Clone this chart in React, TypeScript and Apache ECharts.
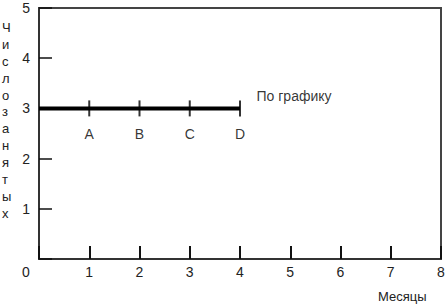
import React, { useEffect, useRef } from "react";
import * as echarts from "echarts";

const months = [0, 1, 2, 3, 4, 5, 6, 7, 8];
const yTicks = [0, 1, 2, 3, 4, 5];
const planX = [0, 1, 2, 3, 4];
const planY = 3;
const milestoneX = [1, 2, 3, 4];
const milestoneLabels = ["A", "B", "C", "D"];
const planLabel = "По графику";
const xName = "Месяцы";
const yName = "Число занятых";

const FONT = "'Liberation Sans', Arial, sans-serif";

export default function App() {
  const ref = useRef<HTMLDivElement>(null);
  useEffect(() => {
    if (!ref.current) return;
    const chart = echarts.init(ref.current, null, { renderer: "svg" });
    chart.setOption({
      animation: false,
      grid: {
        left: 39,
        right: 7,
        top: 8,
        bottom: 46,
        show: true,
        borderColor: "#444",
        borderWidth: 2,
        backgroundColor: "transparent",
      },
      xAxis: {
        type: "value",
        min: months[0],
        max: months[months.length - 1],
        interval: 1,
        axisLine: { show: true, lineStyle: { color: "#333", width: 2 } },
        axisTick: { show: true, inside: true, length: 13, lineStyle: { color: "#111", width: 2 } },
        splitLine: { show: false },
        axisLabel: {
          margin: 6,
          color: "#222",
          fontSize: 14,
          fontFamily: FONT,
          formatter: (v: number) => (v === 0 ? "{z|0}" : String(v)),
          rich: { z: { padding: [0, 26, 0, 0], fontSize: 14, fontFamily: FONT, color: "#222" } },
        },
      },
      yAxis: {
        type: "value",
        min: yTicks[0],
        max: yTicks[yTicks.length - 1],
        interval: 1,
        axisLine: { show: true, lineStyle: { color: "#333", width: 2 } },
        axisTick: { show: true, inside: true, length: 13, lineStyle: { color: "#111", width: 1.5 } },
        splitLine: { show: false },
        axisLabel: {
          margin: 9,
          color: "#222",
          fontSize: 14,
          fontFamily: FONT,
          formatter: (v: number) => (v === 0 ? "" : String(v)),
        },
      },
      series: [
        {
          type: "line",
          data: planX.map((x) => [x, planY]),
          symbol: "none",
          lineStyle: { color: "#000", width: 4 },
          z: 3,
        },
        {
          type: "scatter",
          data: milestoneX.map((x, i) => ({ value: [x, planY], name: milestoneLabels[i] })),
          symbol: "rect",
          symbolSize: [2, 16],
          itemStyle: { color: "#000" },
          label: {
            show: true,
            position: "bottom",
            distance: 11,
            formatter: (p: any) => p.name,
            color: "#000",
            fontSize: 14,
            fontFamily: FONT,
          },
          z: 4,
        },
        {
          type: "scatter",
          data: [{ value: [planX[planX.length - 1], planY], name: planLabel }],
          symbol: "rect",
          symbolSize: [1, 1],
          itemStyle: { color: "transparent" },
          label: {
            show: true,
            position: "right",
            distance: 16,
            offset: [0, -12],
            formatter: (p: any) => p.name,
            color: "#000",
            fontSize: 14,
            fontFamily: FONT,
          },
          z: 5,
        },
      ],
      graphic: [
        {
          type: "text",
          left: 2,
          top: 19,
          style: {
            text: yName.replace(/ /g, "").split("").join("\n"),
            fontSize: 13,
            lineHeight: 16.9,
            fontFamily: FONT,
            fill: "#222",
            align: "center",
            width: 12,
          },
        },
        {
          type: "text",
          left: 378,
          top: 290,
          style: { text: xName, fontSize: 13, fontFamily: FONT, fill: "#222" },
        },
      ],
    });
    return () => chart.dispose();
  }, []);
  return (
    <div
      ref={ref}
      style={{ position: "fixed", left: 0, top: 0, width: 448, height: 305, background: "#fff" }}
    />
  );
}
